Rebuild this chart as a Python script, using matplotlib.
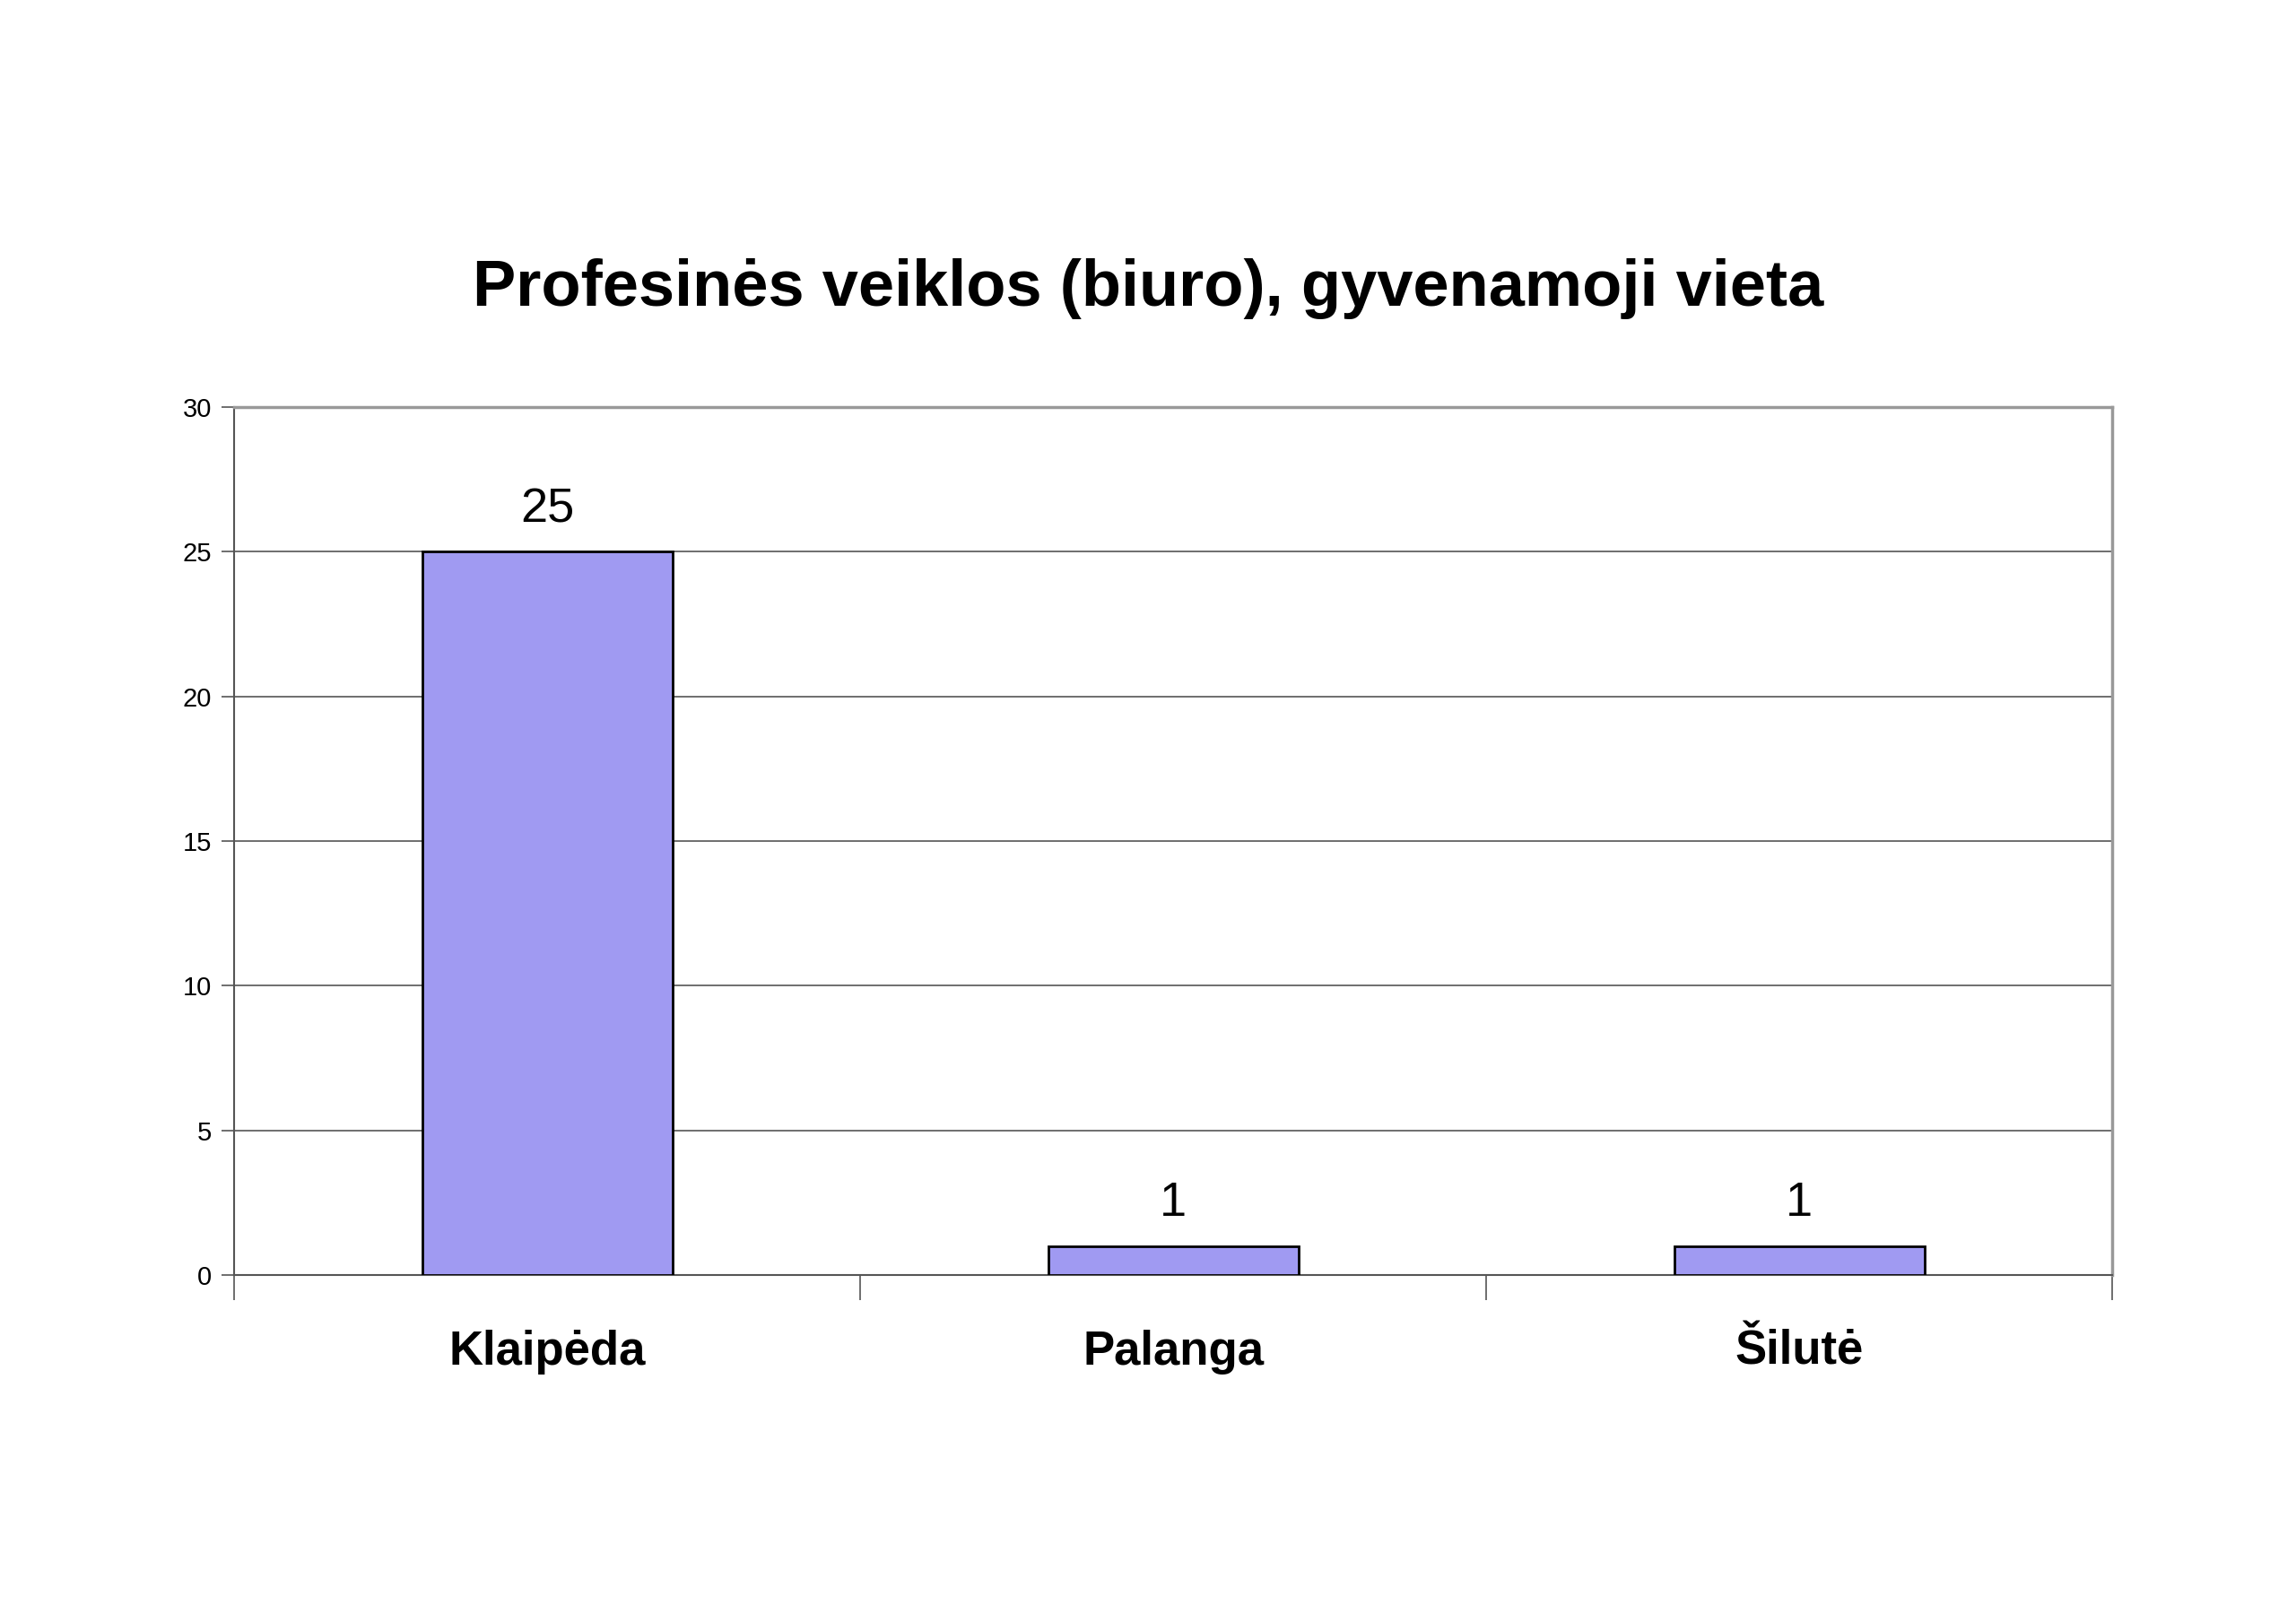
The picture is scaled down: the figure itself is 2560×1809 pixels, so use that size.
import matplotlib.pyplot as plt
import numpy as np

miestai = ['Klaipėda', 'Palanga', 'Šilutė']
kiekis = [25, 1, 1]
y_ticks = [0, 5, 10, 15, 20, 25, 30]

plt.rcParams['font.family'] = ['Liberation Sans', 'DejaVu Sans']

fig = plt.figure(figsize=(25.6, 18.09), dpi=100)
ax = fig.add_axes([0.102, 0.214, 0.818, 0.535])

x = np.arange(len(miestai))
bars = ax.bar(x, kiekis, width=0.4, color='#a09af2', edgecolor='black', linewidth=2, zorder=3)

for b, v in zip(bars, kiekis):
    ax.annotate(str(v), (b.get_x() + b.get_width() / 2, v), xytext=(0, 16),
                textcoords='offset points', ha='center', va='bottom', fontsize=39)

ax.set_xlim(-0.5, len(miestai) - 0.5)
ax.set_ylim(0, 30)
ax.set_yticks(y_ticks)
ax.tick_params(axis='y', labelsize=21, length=10, width=1.2, color='#555555', pad=8)
ax.grid(axis='y', color='#555555', linewidth=1.2, zorder=0)

# kategoriju ribos
ax.set_xticks(np.arange(-0.5, len(miestai), 1.0))
ax.set_xticklabels([])
ax.set_xticks(x, minor=True)
ax.set_xticklabels(miestai, minor=True, fontsize=38, fontweight='bold')
ax.tick_params(axis='x', which='major', length=20, width=1.2, color='#555555')
ax.tick_params(axis='x', which='minor', length=0, pad=44)

for s in ['top', 'right']:
    ax.spines[s].set_color('#999999')
    ax.spines[s].set_linewidth(2.5)
for s in ['left', 'bottom']:
    ax.spines[s].set_color('#555555')
    ax.spines[s].set_linewidth(1.5)

fig.suptitle('Profesinės veiklos (biuro), gyvenamoji vieta', y=1 - 322 / 1809, va='center',
             fontsize=52, fontweight='bold')

plt.savefig('out.png', dpi=100)
